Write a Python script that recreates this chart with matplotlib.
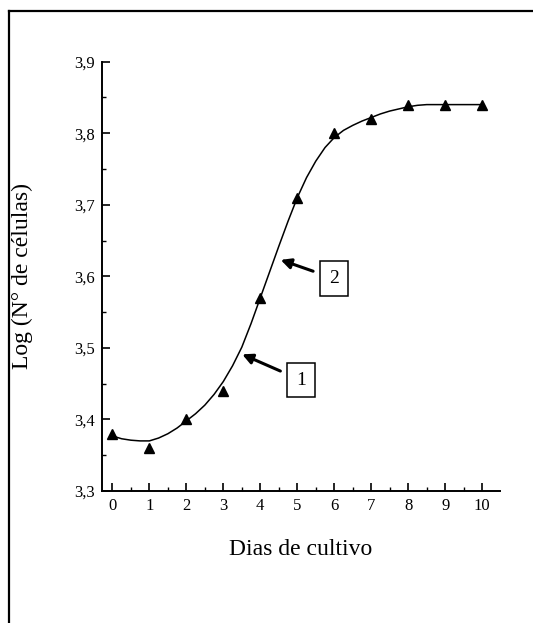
import numpy as np
import matplotlib
matplotlib.use('Agg')
import matplotlib.pyplot as plt
from matplotlib.lines import Line2D
from matplotlib.ticker import MultipleLocator, FuncFormatter

plt.rcParams['font.family'] = ['Liberation Serif', 'DejaVu Serif']

# datos medidos
dias = [0, 1, 2, 3, 4, 5, 6, 7, 8, 9, 10]
log_cel = [3.38, 3.36, 3.40, 3.44, 3.57, 3.71, 3.80, 3.82, 3.84, 3.84, 3.84]

# curva ajustada (cada 0.25 dias)
curva_x = [0, 0.25, 0.5, 0.75, 1, 1.25, 1.5, 1.75, 2, 2.25, 2.5, 2.75, 3, 3.25, 3.5, 3.75,
           4, 4.25, 4.5, 4.75, 5, 5.25, 5.5, 5.75, 6, 6.25, 6.5, 6.75, 7, 7.25, 7.5, 7.75,
           8, 8.25, 8.5, 9, 9.5, 10]
curva_y = [3.377, 3.373, 3.371, 3.370, 3.370, 3.374, 3.380, 3.388, 3.398, 3.408, 3.420, 3.435,
           3.453, 3.475, 3.501, 3.534, 3.570, 3.606, 3.642, 3.677, 3.710, 3.738, 3.761, 3.780,
           3.794, 3.804, 3.811, 3.817, 3.822, 3.827, 3.831, 3.834, 3.837, 3.839, 3.840, 3.840,
           3.840, 3.840]

fig = plt.figure(figsize=(5.33, 6.23), dpi=100)
ax = fig.add_axes([0.1914, 0.2119, 0.7466, 0.6891])

ax.plot(curva_x, curva_y, color='black', lw=1.1)
ax.plot(dias, log_cel, '^', color='black', ms=6.5, clip_on=False)

ax.set_xlim(-0.28, 10.48)
ax.set_ylim(3.3, 3.9)
ax.spines['top'].set_visible(False)
ax.spines['right'].set_visible(False)
ax.spines['left'].set_linewidth(1.4)
ax.spines['bottom'].set_linewidth(1.4)

ax.xaxis.set_major_locator(MultipleLocator(1))
ax.xaxis.set_minor_locator(MultipleLocator(0.5))
ax.yaxis.set_major_locator(MultipleLocator(0.1))
ax.yaxis.set_minor_locator(MultipleLocator(0.05))
ax.yaxis.set_major_formatter(FuncFormatter(lambda v, p: ('%.1f' % v).replace('.', ',')))
ax.tick_params(which='major', direction='in', length=6, width=1.2, labelsize=12, pad=5)
ax.tick_params(which='minor', direction='in', length=3, width=1.0)

ax.set_xlabel('Dias de cultivo', fontsize=17, labelpad=18)
ax.set_ylabel('Log (N° de células)', fontsize=17, labelpad=30)

caja = dict(boxstyle='square,pad=0.45', fc='white', ec='black', lw=1.1)
flecha = dict(arrowstyle='-|>', color='black', lw=2.2, mutation_scale=15, shrinkA=5, shrinkB=0)
ax.annotate('2', xy=(4.55, 3.623), xytext=(5.99, 3.597), fontsize=14,
            ha='center', va='center', bbox=caja, arrowprops=flecha)
ax.annotate('1', xy=(3.51, 3.491), xytext=(5.10, 3.455), fontsize=14,
            ha='center', va='center', bbox=caja, arrowprops=flecha)

# marco exterior
fig.add_artist(Line2D([0.0169, 0.0169], [0.0, 0.9823], color='black', lw=1.6))
fig.add_artist(Line2D([0.0169, 1.0], [0.9823, 0.9823], color='black', lw=1.6))

fig.savefig('out.png', dpi=100)
